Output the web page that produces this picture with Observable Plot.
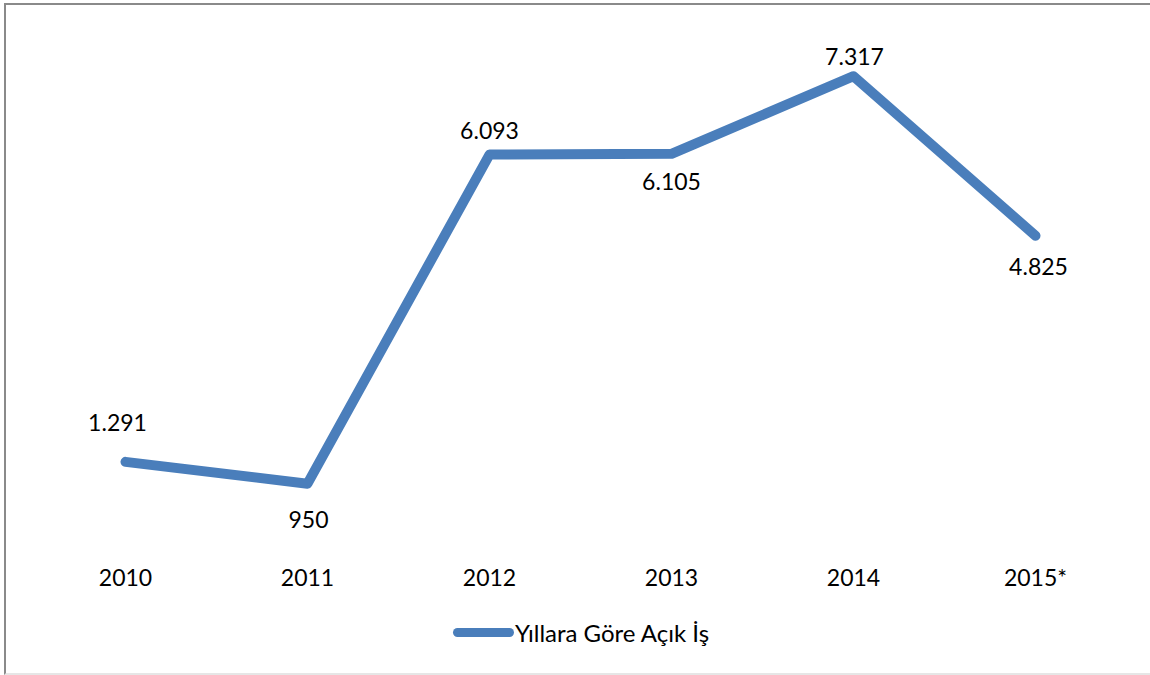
<!DOCTYPE html>
<html>
<head>
<meta charset="utf-8">
<script src="https://cdn.jsdelivr.net/npm/d3@7"></script>
<script src="https://cdn.jsdelivr.net/npm/@observablehq/plot@0.6"></script>
<style>
  html, body { margin: 0; padding: 0; background: #fff; }
  body { width: 1150px; height: 675px; position: relative; overflow: hidden; font-family: Lato, "Open Sans", sans-serif; }
  #frame { position: absolute; left: 4px; top: 3px; width: 1160px; height: 672px;
           border: 2px solid #8a8a8a; border-bottom-color: #e6e6e6; box-sizing: border-box; }
  #chart { position: absolute; left: 0; top: 0; }
  #legend { position: absolute; left: 453px; top: 618px; display: flex; align-items: center; font-size: 24px; color: #000; }
  #legend .swatch { width: 61px; height: 9px; border-radius: 5px; background: #4a7ebb; margin-right: 1px; }
</style>
</head>
<body>
<div id="frame"></div>
<div id="chart"></div>
<div id="legend"><span class="swatch"></span><span>Yıllara Göre Açık İş</span></div>
<script>
const years = ["2010", "2011", "2012", "2013", "2014", "2015*"];
const openJobs = [1291, 950, 6093, 6105, 7317, 4825];
const seriesName = "Yıllara Göre Açık İş";
// label placement (layout): dx, dy offsets per point
const labelDx = [-8, 1, 0, 0, 1, 3];
const labelDy = [-38, 37, -23, 29, -19, 32];

const tr = d3.formatLocale({decimal: ",", thousands: ".", grouping: [3], currency: ["", "₺"]});
const fmt = tr.format(",d");

const data = years.map((y, i) => ({year: y, value: openJobs[i], i}));

const labelMarks = data.map(d => Plot.text([d], {
  x: "year", y: "value", text: d => fmt(d.value),
  dx: labelDx[d.i], dy: labelDy[d.i], fontSize: 23, fill: "#000"
}));

const chart = Plot.plot({
  width: 1150,
  height: 600,
  marginTop: 32,
  marginBottom: 56,
  marginLeft: 31,
  marginRight: 22,
  style: {fontFamily: "Lato, 'Open Sans', sans-serif", background: "transparent"},
  x: {type: "band", domain: years, padding: 0, label: null, tickSize: 0, tickPadding: 26},
  y: {domain: [0, 8000], axis: null},
  marks: [
    Plot.axisX({tickSize: 0, tickPadding: 25, fontSize: 23, fill: "#000", label: null}),
    Plot.line(data, {x: "year", y: "value", stroke: "#4a7ebb", strokeWidth: 10,
      strokeLinecap: "round", strokeLinejoin: "round"}),
    ...labelMarks
  ]
});
document.getElementById("chart").appendChild(chart);
</script>
</body>
</html>
